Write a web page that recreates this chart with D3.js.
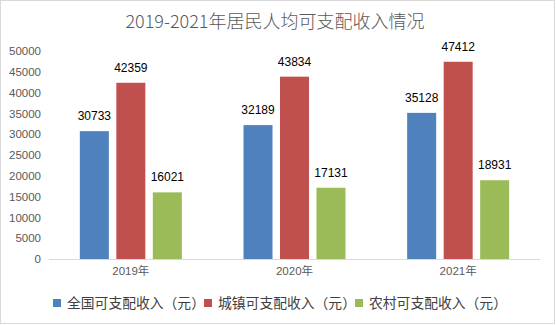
<!DOCTYPE html>
<html><head><meta charset="utf-8">
<script src="https://cdn.jsdelivr.net/npm/d3@7/dist/d3.min.js"></script>
<style>
html,body{margin:0;padding:0;background:#fff;}
svg{display:block;font-family:"Liberation Sans","Noto Sans CJK SC",sans-serif;}
</style></head>
<body><svg id="c" width="556" height="326"></svg>
<script>
const title = "2019-2021年居民人均可支配收入情况";
const categories = ["2019年","2020年","2021年"];
const seriesNames = ["全国可支配收入（元）","城镇可支配收入（元）","农村可支配收入（元）"];
const national = [30733, 32189, 35128];
const urban = [42359, 43834, 47412];
const rural = [16021, 17131, 18931];
const yTicks = [0,5000,10000,15000,20000,25000,30000,35000,40000,45000,50000];
const colors = ["#4F81BD","#C0504D","#9BBB59"];

const seriesValues = [national, urban, rural];
const svg = d3.select("#c");

svg.append("rect").attr("x",0.5).attr("y",0.5).attr("width",554).attr("height",323)
  .attr("fill","#fff").attr("stroke","#d9d9d9");

svg.append("text").attr("x",275).attr("y",28).attr("text-anchor","middle")
  .attr("font-family","'Noto Sans CJK SC',sans-serif").attr("font-size",18)
  .attr("font-weight",300).attr("fill","#595959").text(title);

const x0 = d3.scaleBand().domain(categories).range([49,540]).paddingInner(0).paddingOuter(0);
const x1 = d3.scaleBand().domain(d3.range(3)).range([0,x0.bandwidth()]).paddingInner(0.205).paddingOuter(0.845);
const y = d3.scaleLinear().domain([0,50000]).range([259,51]);

// y tick labels
const yAxis = d3.axisLeft(y).tickValues(yTicks).tickSize(0).tickPadding(0).tickFormat(d3.format("d"));
const ya = svg.append("g").attr("transform","translate(41,0)").call(yAxis);
ya.select(".domain").remove();
ya.selectAll("text").attr("font-size",11.5).attr("fill","#595959")
  .attr("font-family","'Liberation Sans',sans-serif");

// bars
const groups = svg.append("g").selectAll("g").data(categories).join("g")
  .attr("transform",d=>`translate(${x0(d)},0)`);
groups.each(function(cat,ci){
  const g = d3.select(this);
  seriesValues.forEach((vals,si)=>{
    g.append("rect").attr("x",x1(si)).attr("y",y(vals[ci]))
      .attr("width",x1.bandwidth()).attr("height",y(0)-y(vals[ci]))
      .attr("fill",colors[si]);
    g.append("text").attr("x",x1(si)+x1.bandwidth()/2).attr("y",y(vals[ci])-11)
      .attr("text-anchor","middle").attr("font-size",12).attr("fill","#000")
      .text(vals[ci]);
  });
});

// x axis
const xAxis = d3.axisBottom(x0).tickSize(0).tickPadding(8);
const xa = svg.append("g").attr("transform","translate(0,259)").call(xAxis);
xa.select(".domain").attr("stroke","#d9d9d9").attr("d","M49,0.5H540");
xa.selectAll("text").attr("font-size",11.5).attr("fill","#595959")
  .attr("font-family","'Liberation Sans','Noto Sans CJK SC',sans-serif");

// legend
const legendX = [53,204,355];
const lg = svg.append("g").selectAll("g").data(seriesNames).join("g")
  .attr("transform",(d,i)=>`translate(${legendX[i]},0)`);
lg.append("rect").attr("x",0).attr("y",299).attr("width",8).attr("height",8)
  .attr("fill",(d,i)=>colors[i]);
lg.append("text").attr("x",14).attr("y",308).attr("font-size",13.8)
  .attr("font-family","'Noto Sans CJK SC',sans-serif").attr("fill","#404040").text(d=>d);
</script></body></html>
